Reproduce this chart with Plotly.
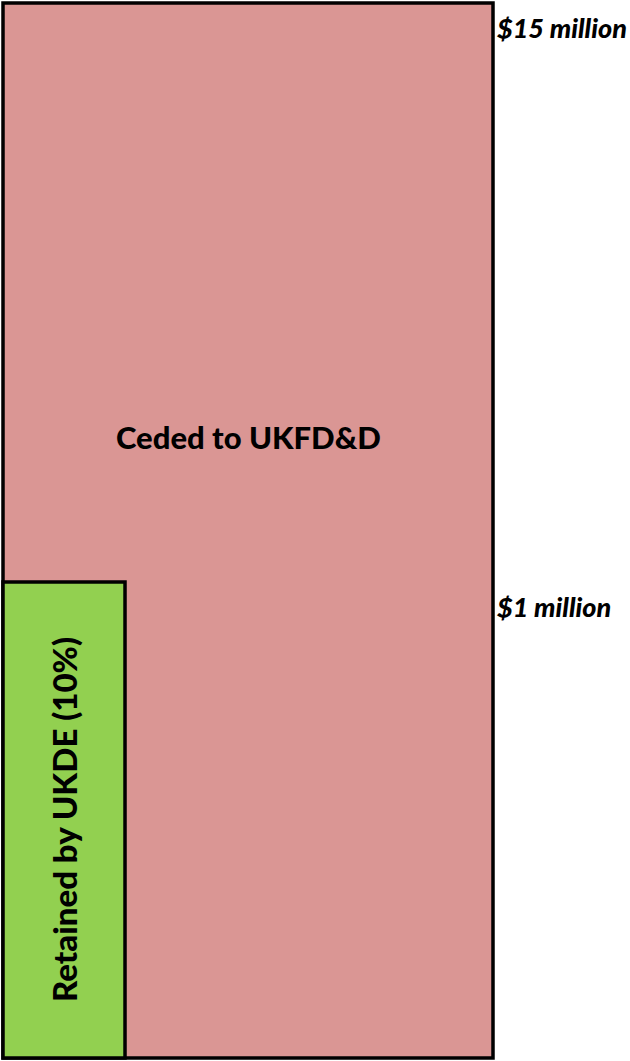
import plotly.graph_objects as go

# Layers of the reinsurance structure (diagram units, not to scale)
layer_names = ["Ceded to UKFD&D", "Retained by UKDE (10%)"]
layer_share = [1.0, 0.249]          # horizontal extent (share of line)
layer_top = [1.0, 0.4512]           # vertical extent (level in diagram)
layer_colors = ["#DA9694", "#92D050"]

level_labels = ["$15 million", "$1 million"]
level_values = [1.0, 0.4512]

fig = go.Figure()

for name, share, top, col in zip(layer_names, layer_share, layer_top, layer_colors):
    fig.add_shape(type="rect", xref="x", yref="y", x0=0, x1=share, y0=0, y1=top,
                  fillcolor=col, line=dict(color="black", width=3.5), layer="above")

# Layer labels
fig.add_annotation(x=layer_share[0] / 2, y=0.589, xref="x", yref="y",
                   text=layer_names[0].replace("&", "&amp;"),
                   showarrow=False, font=dict(family="Lato", size=31, color="black", weight=900))
fig.add_annotation(x=layer_share[1] / 2, y=layer_top[1] / 2, xref="x", yref="y",
                   text=layer_names[1], textangle=-90,
                   showarrow=False, font=dict(family="Lato", size=33, color="black", weight=900))

for lab, val in zip(level_labels, level_values):
    fig.add_annotation(x=1.0, y=val, xref="x", yref="y", xanchor="left", yanchor="top",
                       xshift=2, yshift=-6, text="<i>" + lab + "</i>",
                       showarrow=False, font=dict(family="Lato", size=27, color="black", weight=900))

fig.update_xaxes(range=[-3 / 490, 627 / 490], visible=False, fixedrange=True)
fig.update_yaxes(range=[-3 / 1055, 1 + 3 / 1055], visible=False, fixedrange=True)
fig.update_layout(width=630, height=1061, margin=dict(l=0, r=0, t=0, b=0),
                  plot_bgcolor="white", paper_bgcolor="white", showlegend=False)

fig.write_html("out.html", config={"displayModeBar": False},
               post_script="document.body.style.margin='0';document.body.style.overflow='hidden';")
